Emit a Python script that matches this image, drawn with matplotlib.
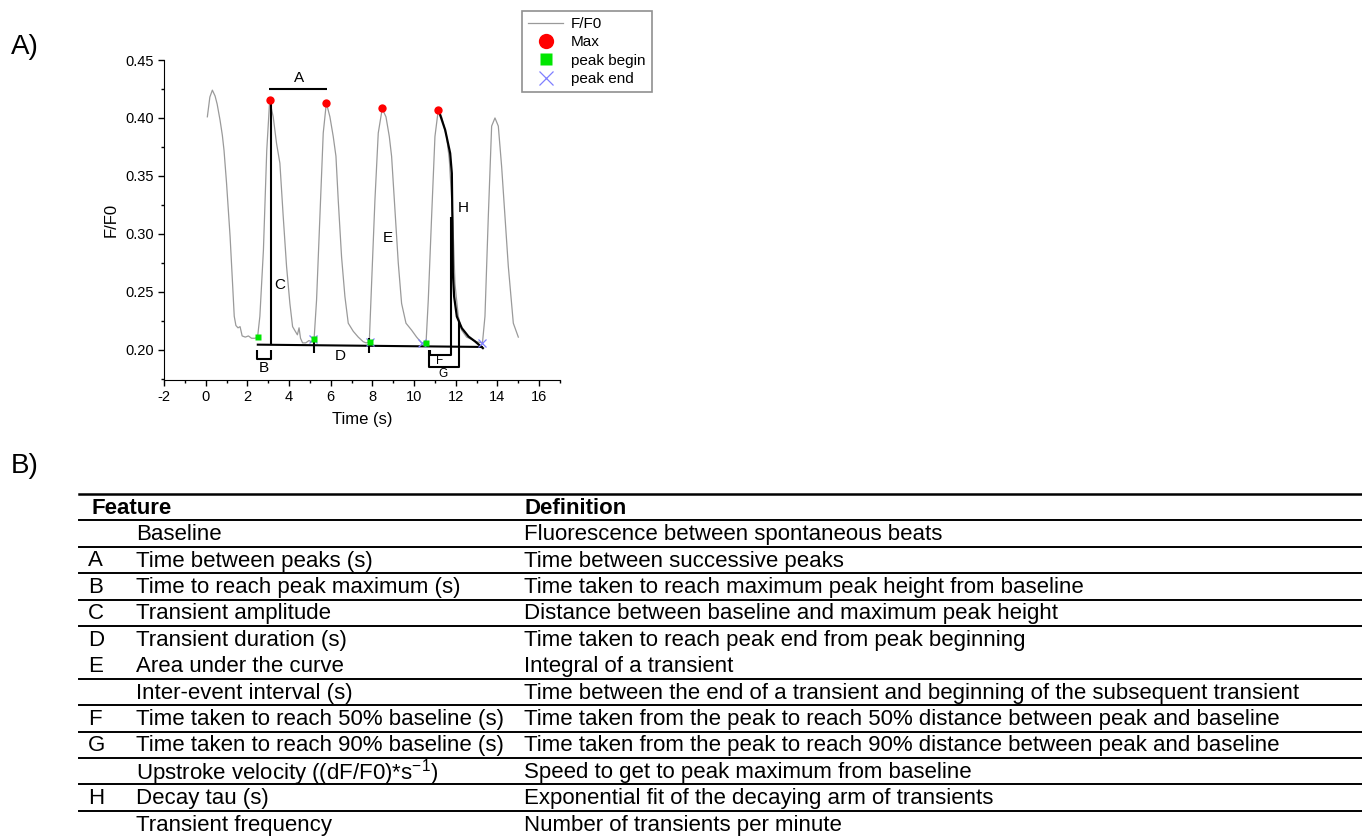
import matplotlib
matplotlib.use("Agg")
import matplotlib.pyplot as plt
from matplotlib.lines import Line2D
from matplotlib.ticker import MultipleLocator

plt.rcParams['font.family'] = ['Liberation Sans', 'DejaVu Sans']
plt.rcParams['axes.unicode_minus'] = False

# ===================== data =====================
time_s = [0.08, 0.20, 0.32, 0.45, 0.55, 0.69, 0.80, 0.88, 1.00, 1.17, 1.29, 1.37, 1.45, 1.55, 1.65,
          1.75, 1.90, 2.05, 2.20, 2.37, 2.49, 2.60, 2.77, 2.93, 3.07, 3.24, 3.40, 3.56, 3.72, 3.88,
          4.04, 4.17, 4.30, 4.40, 4.48, 4.55, 4.65, 4.80, 4.95, 5.10, 5.20, 5.32, 5.48, 5.64, 5.79,
          5.96, 6.12, 6.25, 6.36, 6.52, 6.68, 6.84, 7.08, 7.32, 7.56, 7.70, 7.85, 7.96, 8.12, 8.28,
          8.47, 8.65, 8.81, 8.92, 9.08, 9.24, 9.40, 9.61, 9.88, 10.12, 10.36, 10.57, 10.68, 10.84, 11.00,
          11.16, 11.32, 11.56, 11.69, 11.85, 11.96, 12.12, 12.28, 12.52, 12.76, 13.00, 13.28, 13.40, 13.56, 13.72,
          13.88, 14.04, 14.20, 14.36, 14.52, 14.76, 15.00]
ff0 = [0.401, 0.418, 0.424, 0.419, 0.412, 0.398, 0.385, 0.372, 0.344, 0.298, 0.257, 0.229, 0.221, 0.219, 0.220,
       0.212, 0.211, 0.212, 0.210, 0.210, 0.211, 0.229, 0.286, 0.372, 0.415, 0.401, 0.378, 0.361, 0.315, 0.272,
       0.240, 0.220, 0.216, 0.213, 0.219, 0.210, 0.206, 0.206, 0.208, 0.207, 0.209, 0.243, 0.315, 0.387, 0.413,
       0.401, 0.384, 0.367, 0.329, 0.280, 0.246, 0.223, 0.216, 0.211, 0.207, 0.206, 0.207, 0.257, 0.329, 0.387,
       0.408, 0.401, 0.384, 0.367, 0.321, 0.275, 0.240, 0.223, 0.217, 0.211, 0.206, 0.205, 0.243, 0.315, 0.384,
       0.407, 0.401, 0.384, 0.364, 0.315, 0.257, 0.229, 0.217, 0.211, 0.209, 0.207, 0.206, 0.229, 0.315, 0.393,
       0.400, 0.393, 0.358, 0.315, 0.272, 0.223, 0.211]

max_t = [3.08, 5.79, 8.47, 11.16]
max_v = [0.4155, 0.4126, 0.4083, 0.4069]
begin_t = [2.49, 5.20, 7.87, 10.57]
begin_v = [0.2110, 0.2090, 0.2070, 0.2055]
end_t = [5.17, 7.88, 10.40, 13.28]
end_v = [0.2090, 0.2070, 0.2055, 0.2060]

# annotation geometry (A-H)
baseline_t = [2.45, 13.30]
baseline_v = [0.2045, 0.2025]
a_t = [3.06, 5.81]
a_v = [0.4247, 0.4247]
b_t = [2.45, 2.45, 3.12, 3.12]
b_v = [0.2000, 0.1920, 0.1920, 0.2000]
c_t = [3.11, 3.11]
c_v = [0.2043, 0.4140]
d_ticks = [5.20, 7.84]
d_v = [0.2101, 0.1977]
f_t = [11.76, 11.76, 10.74, 10.74]
f_v = [0.3150, 0.1957, 0.1957, 0.2000]
g_t = [12.16, 12.16, 10.72, 10.72]
g_v = [0.2240, 0.1848, 0.1848, 0.2000]
h_t = [11.25, 11.49, 11.73, 11.81, 11.84, 11.86, 11.92, 12.05, 12.29, 12.61, 12.93, 13.30]
h_v = [0.4026, 0.3897, 0.3696, 0.3523, 0.3092, 0.2661, 0.2460, 0.2287, 0.2187, 0.2115, 0.2072, 0.2015]

ann_text = ['A', 'B', 'C', 'D', 'E', 'F', 'G', 'H']
ann_t = [4.48, 2.77, 3.54, 6.45, 8.72, 11.22, 11.41, 12.37]
ann_v = [0.4342, 0.1842, 0.2560, 0.1950, 0.2963, 0.1900, 0.1793, 0.3220]
ann_size = [11, 11, 11, 11, 11, 8.5, 8.5, 11]

# table
feature_letters = ['', 'A', 'B', 'C', 'D', 'E', '', 'F', 'G', '', 'H', '']
feature_names = ['Baseline', 'Time between peaks (s)', 'Time to reach peak maximum (s)',
                 'Transient amplitude', 'Transient duration (s)', 'Area under the curve',
                 'Inter-event interval (s)', 'Time taken to reach 50% baseline (s)',
                 'Time taken to reach 90% baseline (s)',
                 'Upstroke velocity ((dF/F0)*s$^{\\mathregular{-1}}$)', 'Decay tau (s)',
                 'Transient frequency']
definitions = ['Fluorescence between spontaneous beats', 'Time between successive peaks',
               'Time taken to reach maximum peak height from baseline',
               'Distance between baseline and maximum peak height',
               'Time taken to reach peak end from peak beginning', 'Integral of a transient',
               'Time between the end of a transient and beginning of the subsequent transient',
               'Time taken from the peak to reach 50% distance between peak and baseline',
               'Time taken from the peak to reach 90% distance between peak and baseline',
               'Speed to get to peak maximum from baseline',
               'Exponential fit of the decaying arm of transients', 'Number of transients per minute']

# ===================== figure =====================
W, H = 1362, 836
fig = plt.figure(figsize=(W / 100, H / 100), dpi=100)


def fx(px):
    return px / W


def fy(py):
    return 1 - py / H


ax = fig.add_axes([fx(164), fy(380), fx(560) - fx(164), fy(60) - fy(380)])
trace, = ax.plot(time_s, ff0, color='#9a9a9a', lw=0.9, label='F/F0')

k = dict(color='black', lw=1.5, solid_capstyle='butt')
ax.plot(baseline_t, baseline_v, **k)
ax.plot(a_t, a_v, **k)
ax.plot(b_t, b_v, **k)
ax.plot(c_t, c_v, **k)
for t in d_ticks:
    ax.plot([t, t], d_v, **k)
ax.plot(f_t, f_v, **k)
ax.plot(g_t, g_v, **k)
ax.plot(h_t, h_v, color='black', lw=1.6)
for s, t, v, fs in zip(ann_text, ann_t, ann_v, ann_size):
    ax.text(t, v, s, fontsize=fs, ha='center', va='center')

mx, = ax.plot(max_t, max_v, 'o', color='#ff0000', ms=6, mec='none', label='Max', zorder=5)
pb, = ax.plot(begin_t, begin_v, 's', color='#00e600', ms=4.5, mec='none', label='peak begin', zorder=5)
pe, = ax.plot(end_t, end_v, 'x', color='#7f7fff', ms=5.5, mew=0.9, label='peak end', zorder=4)

ax.set_xlim(-2, 17)
ax.set_ylim(0.174, 0.45)
ax.xaxis.set_major_locator(MultipleLocator(2))
ax.xaxis.set_minor_locator(MultipleLocator(1))
ax.yaxis.set_major_locator(MultipleLocator(0.05))
ax.yaxis.set_minor_locator(MultipleLocator(0.025))
ax.yaxis.set_major_formatter(plt.FormatStrFormatter('%.2f'))
ax.tick_params(which='major', direction='out', length=4, width=1, labelsize=10.5, pad=3)
ax.tick_params(which='minor', direction='out', length=2.5, width=1)
ax.spines['top'].set_visible(False)
ax.spines['right'].set_visible(False)
ax.set_xlabel('Time (s)', fontsize=12, labelpad=6)
ax.set_ylabel('F/F0', fontsize=12, labelpad=5)

leg = fig.legend([trace, mx, pb, pe], ['F/F0', 'Max', 'peak begin', 'peak end'],
                 loc='upper left', bbox_to_anchor=(fx(522), fy(11)), borderaxespad=0,
                 fontsize=11, fancybox=False, edgecolor='#909090', framealpha=1,
                 handlelength=2.3, labelspacing=0.28, borderpad=0.4, handletextpad=0.5)
leg.get_frame().set_linewidth(1.2)
for hnd, ms in zip(leg.legend_handles, [0, 11, 8, 10]):
    if ms:
        hnd.set_markersize(ms)

fig.text(fx(11), fy(47), 'A)', fontsize=20, va='center', ha='left')
fig.text(fx(11), fy(466), 'B)', fontsize=20, va='center', ha='left')

# ===================== table =====================
row_h = 26.4
top = 494
tfs = 16
fig.add_artist(Line2D([fx(79), 1], [fy(top), fy(top)], color='black', lw=1.8))
fig.text(fx(91), fy(top + row_h / 2 + 1), 'Feature', fontsize=tfs, fontweight='bold', va='center')
fig.text(fx(524), fy(top + row_h / 2 + 1), 'Definition', fontsize=tfs, fontweight='bold', va='center')
for i in range(len(feature_names)):
    y_top = top + row_h * (i + 1)
    if i != 5:
        fig.add_artist(Line2D([fx(79), 1], [fy(y_top), fy(y_top)], color='black', lw=1.4))
    yc = fy(y_top + row_h / 2 + 1)
    fig.text(fx(88), yc, feature_letters[i], fontsize=tfs, va='center')
    fig.text(fx(136), yc, feature_names[i], fontsize=tfs, va='center')
    fig.text(fx(524), yc, definitions[i], fontsize=tfs, va='center')

fig.savefig('out.png', dpi=100)
